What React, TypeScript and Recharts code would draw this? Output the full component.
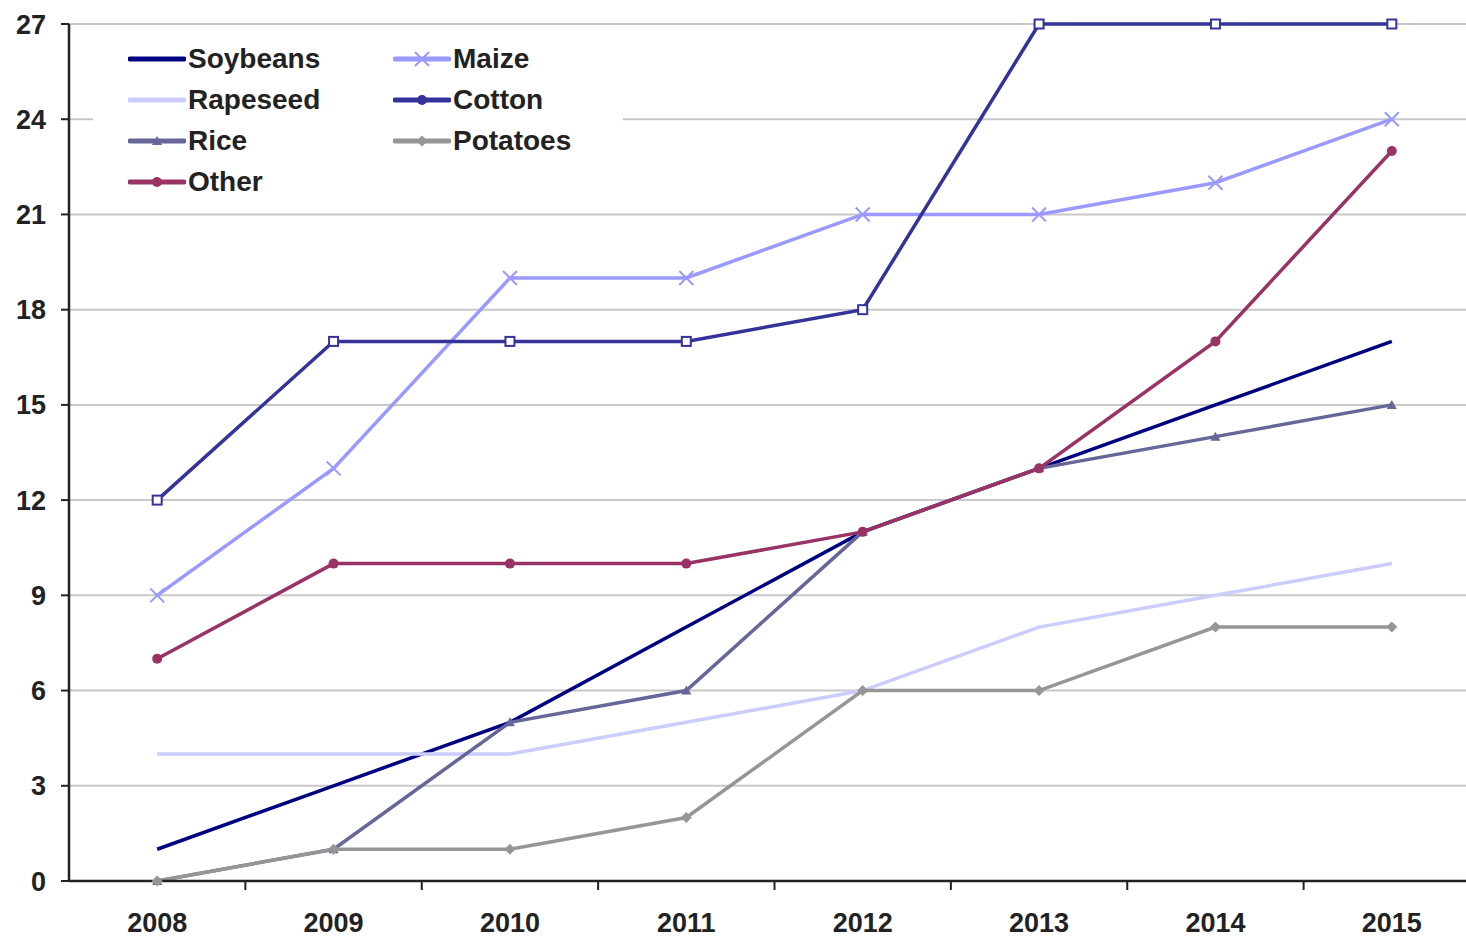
import { CartesianGrid, Legend, Line, LineChart, XAxis, YAxis } from "recharts";

const years = ["2008", "2009", "2010", "2011", "2012", "2013", "2014", "2015"];
const soybeans = [1, 3, 5, 8, 11, 13, 15, 17];
const maize = [9, 13, 19, 19, 21, 21, 22, 24];
const rapeseed = [4, 4, 4, 5, 6, 8, 9, 10];
const cotton = [12, 17, 17, 17, 18, 27, 27, 27];
const rice = [0, 1, 5, 6, 11, 13, 14, 15];
const potatoes = [0, 1, 1, 2, 6, 6, 8, 8];
const other = [7, 10, 10, 10, 11, 13, 17, 23];
const yTicks = [0, 3, 6, 9, 12, 15, 18, 21, 24, 27];
// year labels sit on whole indices, separator tick marks on the halves
const xTicks = [0, 0.5, 1, 1.5, 2, 2.5, 3, 3.5, 4, 4.5, 5, 5.5, 6, 6.5, 7, 7.5];

const data = years.map((year, i) => ({
  idx: i,
  year,
  Soybeans: soybeans[i],
  Maize: maize[i],
  Rapeseed: rapeseed[i],
  Cotton: cotton[i],
  Rice: rice[i],
  Potatoes: potatoes[i],
  Other: other[i],
}));

type Marker = "none" | "x" | "square" | "triangle" | "diamond" | "circle";

const series: { key: string; color: string; marker: Marker }[] = [
  { key: "Soybeans", color: "#000080", marker: "none" },
  { key: "Maize", color: "#9999ff", marker: "x" },
  { key: "Rapeseed", color: "#ccccff", marker: "none" },
  { key: "Cotton", color: "#333399", marker: "square" },
  { key: "Rice", color: "#666699", marker: "triangle" },
  { key: "Potatoes", color: "#969696", marker: "diamond" },
  { key: "Other", color: "#993366", marker: "circle" },
];

const font = "'Liberation Sans', Arial, sans-serif";

function MarkerShape({ cx, cy, color, marker }: { cx: number; cy: number; color: string; marker: Marker }) {
  if (marker === "x")
    return (
      <path d={`M${cx - 7},${cy - 7}L${cx + 7},${cy + 7}M${cx - 7},${cy + 7}L${cx + 7},${cy - 7}`} stroke={color} strokeWidth={2} />
    );
  if (marker === "square")
    return <rect x={cx - 4.5} y={cy - 4.5} width={9} height={9} fill="#fff" stroke={color} strokeWidth={2} />;
  if (marker === "triangle")
    return <path d={`M${cx},${cy - 5}L${cx + 5},${cy + 4}L${cx - 5},${cy + 4}Z`} fill={color} />;
  if (marker === "diamond")
    return <path d={`M${cx},${cy - 5.5}L${cx + 5.5},${cy}L${cx},${cy + 5.5}L${cx - 5.5},${cy}Z`} fill={color} />;
  if (marker === "circle") return <circle cx={cx} cy={cy} r={5} fill={color} />;
  return null;
}

function LegendBox() {
  return (
    <div
      style={{
        background: "#fff",
        width: 530,
        height: 168,
        paddingTop: 2,
        paddingLeft: 35,
        boxSizing: "border-box",
        display: "grid",
        gridTemplateColumns: "265px 265px",
        gridAutoRows: "41px",
        fontFamily: font,
        fontWeight: "bold",
        fontSize: 28,
        color: "#222",
      }}
    >
      {series.map((s) => (
        <div key={s.key} style={{ display: "flex", alignItems: "center" }}>
          <svg width={58} height={20} style={{ flex: "none" }}>
            <line x1={2} y1={10} x2={56} y2={10} stroke={s.color} strokeWidth={5} strokeLinecap="round" />
            <MarkerShape cx={29} cy={10} color={s.color} marker={s.marker === "square" ? "circle" : s.marker} />
          </svg>
          <span style={{ marginLeft: 2 }}>{s.key}</span>
        </div>
      ))}
    </div>
  );
}

const tickStyle = { fill: "#222", fontSize: 27, fontWeight: "bold" as const, fontFamily: font };

function XTick(props: any) {
  const { x, y, payload } = props;
  const v = Number(payload.value);
  if (!Number.isInteger(v)) {
    return <line x1={x} y1={y} x2={x} y2={y + 9} stroke="#222" strokeWidth={2} />;
  }
  return (
    <text x={x} y={y + 51} textAnchor="middle" {...tickStyle}>
      {years[v]}
    </text>
  );
}

export default function App() {
  return (
    <div style={{ position: "absolute", left: 0, top: 0, width: 1466, height: 939, overflow: "hidden", background: "#fff" }}>
      <LineChart width={1490} height={939} data={data} margin={{ top: 24, right: 10, left: 0, bottom: 0 }}>
        <CartesianGrid horizontal vertical={false} stroke="#c8c8c8" strokeWidth={2} />
        <XAxis
          type="number"
          dataKey="idx"
          domain={[-0.5, 7.5]}
          ticks={xTicks}
          tick={<XTick />}
          tickLine={false}
          tickSize={0}
          tickMargin={0}
          axisLine={{ stroke: "#222", strokeWidth: 2.5 }}
          height={58}
          interval={0}
        />
        <YAxis
          domain={[0, 27]}
          ticks={yTicks}
          width={69}
          tickSize={8}
          tickMargin={15}
          interval={0}
          tick={tickStyle}
          tickLine={{ stroke: "#222", strokeWidth: 2 }}
          axisLine={{ stroke: "#222", strokeWidth: 2.5 }}
        />
        <Legend
          layout="vertical"
          align="center"
          verticalAlign="middle"
          content={() => <LegendBox />}
          wrapperStyle={{ position: "absolute", left: 93, top: 36, width: 530, height: 168 }}
        />
        {series.map((s) => (
          <Line
            key={s.key}
            dataKey={s.key}
            stroke={s.color}
            strokeWidth={3.5}
            isAnimationActive={false}
            dot={(p: any) => <MarkerShape key={`${s.key}-${p.index}`} cx={p.cx} cy={p.cy} color={s.color} marker={s.marker} />}
            activeDot={false}
          />
        ))}
      </LineChart>
    </div>
  );
}
